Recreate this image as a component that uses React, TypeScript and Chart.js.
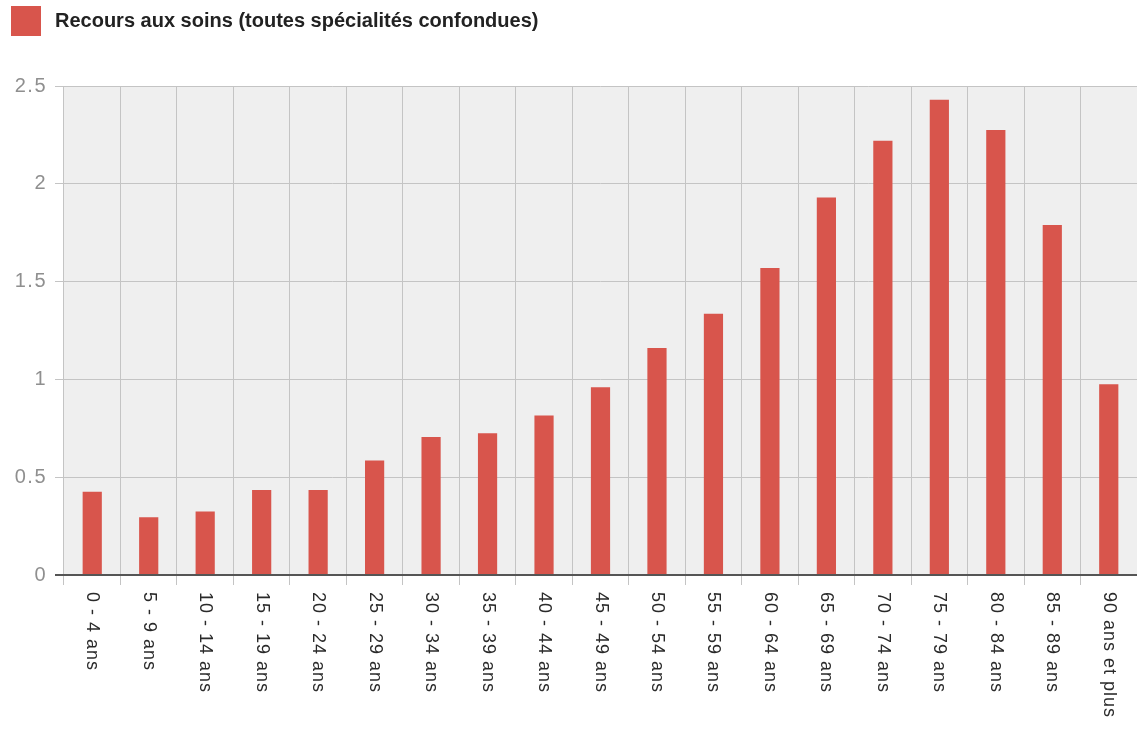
import React, { useEffect, useRef } from "react";
import { Chart, registerables } from "chart.js";

Chart.register(...registerables);

const categories: string[] = [
  "0 - 4 ans", "5 - 9 ans", "10 - 14 ans", "15 - 19 ans", "20 - 24 ans",
  "25 - 29 ans", "30 - 34 ans", "35 - 39 ans", "40 - 44 ans", "45 - 49 ans",
  "50 - 54 ans", "55 - 59 ans", "60 - 64 ans", "65 - 69 ans", "70 - 74 ans",
  "75 - 79 ans", "80 - 84 ans", "85 - 89 ans", "90 ans et plus",
];

const recoursValues: number[] = [
  0.425, 0.295, 0.325, 0.435, 0.435,
  0.585, 0.705, 0.725, 0.815, 0.96,
  1.16, 1.335, 1.57, 1.93, 2.22,
  2.43, 2.275, 1.79, 0.975,
];

const seriesLabel = "Recours aux soins (toutes spécialités confondues)";
const yTicks: number[] = [0, 0.5, 1, 1.5, 2, 2.5];

const BAR_COLOR = "#d8554c";
const FONT = "'Liberation Sans', Arial, sans-serif";

const bgPlugin = {
  id: "plotBg",
  beforeDraw(chart: any) {
    const { ctx, chartArea } = chart;
    ctx.save();
    ctx.fillStyle = "#efefef";
    ctx.fillRect(chartArea.left, chartArea.top, chartArea.right - chartArea.left, chartArea.bottom - chartArea.top);
    ctx.restore();
    (ctx as any).letterSpacing = "1.5px";
  },
  afterDraw(chart: any) {
    (chart.ctx as any).letterSpacing = "0px";
  },
};

const legendPlugin = {
  id: "customLegend",
  afterDraw(chart: any) {
    const { ctx } = chart;
    const ds = chart.data.datasets[0];
    ctx.save();
    (ctx as any).letterSpacing = "0px";
    ctx.fillStyle = ds.backgroundColor;
    ctx.fillRect(11, 6, 30, 30);
    ctx.fillStyle = "#222";
    ctx.font = `bold 20px ${FONT}`;
    ctx.textAlign = "left";
    ctx.textBaseline = "middle";
    ctx.fillText(ds.label, 55, 21);
    ctx.restore();
  },
};

const xLabelPlugin = {
  id: "xLabels",
  afterDraw(chart: any) {
    const { ctx, chartArea } = chart;
    const xs = chart.scales.x;
    ctx.save();
    ctx.fillStyle = "#2a2a2a";
    ctx.font = `18px ${FONT}`;
    (ctx as any).letterSpacing = "1px";
    ctx.textAlign = "left";
    ctx.textBaseline = "middle";
    chart.data.labels.forEach((lab: string, i: number) => {
      const x = xs.getPixelForTick(i);
      ctx.save();
      ctx.translate(x, chartArea.bottom + 17);
      ctx.rotate(Math.PI / 2);
      ctx.fillText(lab, 0, 0);
      ctx.restore();
    });
    ctx.restore();
  },
};

export default function App() {
  const ref = useRef<HTMLCanvasElement>(null);
  useEffect(() => {
    if (!ref.current) return;
    const chart = new Chart(ref.current, {
      type: "bar",
      data: {
        labels: categories,
        datasets: [
          {
            label: seriesLabel,
            data: recoursValues,
            backgroundColor: BAR_COLOR,
            barPercentage: 0.34,
            categoryPercentage: 1,
          },
        ],
      },
      options: {
        animation: false,
        responsive: false,
        maintainAspectRatio: false,
        layout: { padding: { top: 86, bottom: 146, left: 0, right: 0 } },
        plugins: {
          legend: { display: false },
          tooltip: { enabled: false },
        },
        scales: {
          x: {
            offset: true,
            grid: {
              offset: true,
              color: "#c4c4c4",
              lineWidth: 1,
              drawTicks: true,
              tickLength: 10,
            },
            border: { display: false },
            ticks: { display: false },
          },
          y: {
            min: 0,
            max: 2.5,
            afterBuildTicks(scale: any) {
              scale.ticks = yTicks.map((v) => ({ value: v }));
            },
            afterFit(scale: any) {
              scale.width = 64;
            },
            grid: {
              color: (c: any) => (c.tick && c.tick.value === 0 ? "#555555" : "#c4c4c4"),
              lineWidth: (c: any) => (c.tick && c.tick.value === 0 ? 2 : 1),
              tickLength: 9,
            },
            border: { display: false },
            ticks: {
              color: "#8f8f8f",
              font: { family: FONT, size: 20 },
              padding: 8,
              callback: (v: any) => String(v),
            },
          },
        },
      },
      plugins: [bgPlugin, legendPlugin, xLabelPlugin],
    });
    return () => chart.destroy();
  }, []);
  return (
    <div style={{ position: "absolute", left: 0, top: 0, width: 1137, height: 731, background: "#fff" }}>
      <canvas ref={ref} width={1137} height={731} style={{ display: "block" }} />
    </div>
  );
}
